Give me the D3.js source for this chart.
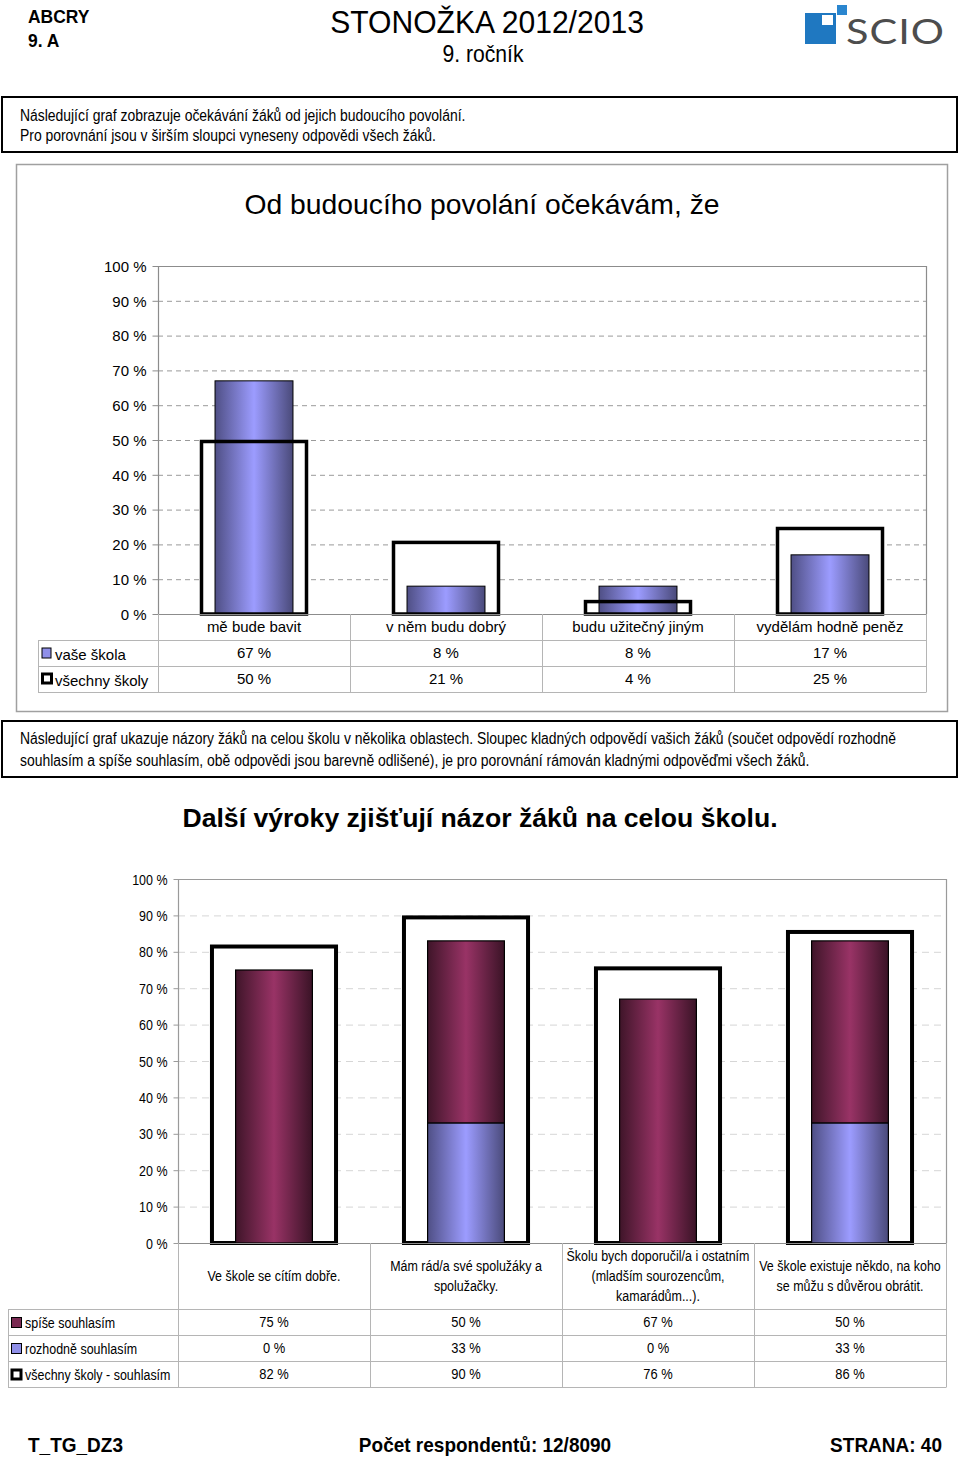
<!DOCTYPE html>
<html><head><meta charset="utf-8">
<script src="https://cdn.jsdelivr.net/npm/d3@7"></script>
<style>
html,body{margin:0;padding:0;background:#fff;}
svg{display:block;}
</style></head>
<body>
<script>
// ---------- data ----------
const categories1 = ["mě bude bavit", "v něm budu dobrý", "budu užitečný jiným", "vydělám hodně peněz"];
const vaseSkola = [67, 8, 8, 17];
const vsechnySkoly = [50, 21, 4, 25];
const series1Names = ["vaše škola", "všechny školy"];

const categories2 = [
  ["Ve škole se cítím dobře."],
  ["Mám rád/a své spolužáky a", "spolužačky."],
  ["Školu bych doporučil/a i ostatním", "(mladším sourozencům,", "kamarádům...)."],
  ["Ve škole existuje někdo, na koho", "se můžu s důvěrou obrátit."]
];
const spiseSouhlasim = [75, 50, 67, 50];
const rozhodneSouhlasim = [0, 33, 0, 33];
const vsechnySkolySouhlasim = [82, 90, 76, 86];
const series2Names = ["spíše souhlasím", "rozhodně souhlasím", "všechny školy - souhlasím"];

const yTicks = [0, 10, 20, 30, 40, 50, 60, 70, 80, 90, 100];

// ---------- setup ----------
const W = 960, H = 1459;
const SANS = "'Liberation Sans',Arial,Helvetica,sans-serif";
const svg = d3.select("body").append("svg").attr("width", W).attr("height", H);
const defs = svg.append("defs");

// condensed text helper (no narrow font installed: scale horizontally)
function ntext(parent, x, y, str, size, opts = {}) {
  const sx = opts.sx || 0.87;
  const t = parent.append("text")
    .attr("transform", `translate(${x},${y}) scale(${sx},1)`)
    .attr("font-family", SANS).attr("font-size", size)
    .attr("text-anchor", opts.anchor || "start")
    .text(str);
  if (opts.weight) t.attr("font-weight", opts.weight);
  if (opts.dy) t.attr("dy", opts.dy);
  return t;
}

function hGrad(id, edgeL, mid, edgeR) {
  const g = defs.append("linearGradient").attr("id", id).attr("x1", "0").attr("x2", "1").attr("y1", "0").attr("y2", "0");
  g.append("stop").attr("offset", "0").attr("stop-color", edgeL);
  g.append("stop").attr("offset", "0.5").attr("stop-color", mid);
  g.append("stop").attr("offset", "1").attr("stop-color", edgeR);
}
hGrad("gPurple", "#4f4f85", "#9c9cff", "#4a4a7a");
hGrad("gMaroon", "#3f1529", "#993366", "#3a1326");

// ---------- header ----------
ntext(svg, 28, 23, "ABCRY", 18, { weight: "bold", sx: 0.97 });
ntext(svg, 28, 47, "9. A", 18, { weight: "bold", sx: 0.97 });
ntext(svg, 487, 33, "STONOŽKA 2012/2013", 32, { anchor: "middle", sx: 0.94 });
ntext(svg, 483, 62, "9. ročník", 23, { anchor: "middle", sx: 0.92 });

// logo
const logo = svg.append("g");
logo.append("rect").attr("x", 805).attr("y", 13).attr("width", 31).attr("height", 31).attr("fill", "#1f78c1");
logo.append("rect").attr("x", 822).attr("y", 15).attr("width", 11).attr("height", 10).attr("fill", "#fff");
logo.append("rect").attr("x", 837).attr("y", 5).attr("width", 10).attr("height", 10).attr("fill", "#2a86cf");
logo.append("text").attr("transform", "translate(846,44) scale(1.22,1)")
  .attr("font-family", "Lato, 'Open Sans', sans-serif").attr("font-size", 34).attr("fill", "#4d4d4d")
  .attr("letter-spacing", 0.8).text("SCIO");

// ---------- text boxes ----------
function textBox(y, h, lines, ly) {
  svg.append("rect").attr("x", 2).attr("y", y).attr("width", 955).attr("height", h).attr("fill", "none").attr("stroke", "#000").attr("stroke-width", 2);
  lines.forEach((t, i) => ntext(svg, 20, ly[i], t, 16, { sx: 0.87 }));
}
textBox(97, 55, ["Následující graf zobrazuje očekávání žáků od jejich budoucího povolání.", "Pro porovnání jsou v širším sloupci vyneseny odpovědi všech žáků."], [121, 141]);
textBox(721, 56, ["Následující graf ukazuje názory žáků na celou školu v několika oblastech. Sloupec kladných odpovědí vašich žáků (součet odpovědí rozhodně",
  "souhlasím a spíše souhlasím, obě odpovědi jsou barevně odlišené), je pro porovnání rámován kladnými odpověďmi všech žáků."], [744, 766]);

// ---------- chart 1 ----------
svg.append("rect").attr("x", 16.5).attr("y", 164.5).attr("width", 931).attr("height", 547).attr("fill", "none").attr("stroke", "#a0a0a0").attr("stroke-width", 1.5);
svg.append("text").attr("x", 482).attr("y", 214).attr("text-anchor", "middle").attr("font-family", SANS).attr("font-size", 28.3).text("Od budoucího povolání očekávám, že");

(function chart1() {
  const left = 158, right = 926, top = 266, bottom = 614;
  const x = d3.scaleBand().domain(categories1).range([left, right]).paddingInner(0).paddingOuter(0);
  const y = d3.scaleLinear().domain([0, 100]).range([bottom, top]);
  const g = svg.append("g");
  g.selectAll("line.grid").data(yTicks.filter(t => t > 0 && t < 100)).join("line")
    .attr("x1", left).attr("x2", right).attr("y1", d => y(d) + 0.5).attr("y2", d => y(d) + 0.5)
    .attr("stroke", "#9a9a9a").attr("stroke-dasharray", "5,4").attr("stroke-width", 1);
  g.append("path").attr("d", `M${left + 0.5},${bottom} V${top + 0.5} H${right + 0.5} V${bottom}`).attr("fill", "none").attr("stroke", "#8c8c8c").attr("stroke-width", 1.2);
  const ax = g.append("g").attr("transform", `translate(${left + 0.5},0)`)
    .call(d3.axisLeft(y).tickValues(yTicks).tickSize(6).tickFormat(d => d + " %"));
  ax.select(".domain").remove();
  ax.selectAll(".tick line").attr("stroke", "#8c8c8c");
  ax.selectAll(".tick text").attr("font-family", SANS).attr("font-size", 15).attr("fill", "#000").attr("x", -12).attr("dy", "0.35em");
  const ow = x.bandwidth() * 0.5625, iw = x.bandwidth() * 0.406;
  const ox = i => x(categories1[i]) + (x.bandwidth() - ow) / 2;
  const ix = i => x(categories1[i]) + (x.bandwidth() - iw) / 2;
  g.selectAll("rect.ofill").data(vsechnySkoly).join("rect")
    .attr("x", (d, i) => ox(i)).attr("width", ow).attr("y", d => y(d)).attr("height", d => y(0) - y(d)).attr("fill", "#fff");
  g.selectAll("rect.bar").data(vaseSkola).join("rect")
    .attr("x", (d, i) => ix(i)).attr("width", iw).attr("y", d => y(d)).attr("height", d => y(0) - y(d))
    .attr("fill", "url(#gPurple)").attr("stroke", "#000").attr("stroke-width", 1);
  g.selectAll("rect.ostroke").data(vsechnySkoly).join("rect")
    .attr("x", (d, i) => ox(i) + 1.5).attr("width", ow - 3).attr("y", d => y(d) + 1.5).attr("height", d => y(0) - y(d) - 1.5)
    .attr("fill", "none").attr("stroke", "#000").attr("stroke-width", 3.5);
  g.append("line").attr("x1", left).attr("x2", right + 0.5).attr("y1", bottom + 0.5).attr("y2", bottom + 0.5).attr("stroke", "#8c8c8c").attr("stroke-width", 1.2);
  const rowY = [640, 666, 692];
  const tl = 38;
  const tg = svg.append("g").attr("stroke", "#b5b5b5").attr("stroke-width", 1);
  rowY.forEach(r => tg.append("line").attr("x1", tl).attr("x2", right).attr("y1", r + 0.5).attr("y2", r + 0.5));
  tg.append("line").attr("x1", tl + 0.5).attr("x2", tl + 0.5).attr("y1", 640).attr("y2", 692.5);
  [left, ...categories1.map(c => x(c) + x.bandwidth())].forEach(v => tg.append("line").attr("x1", v + 0.5).attr("x2", v + 0.5).attr("y1", bottom).attr("y2", 692.5));
  categories1.forEach((c, i) => {
    const cx = x(c) + x.bandwidth() / 2;
    svg.append("text").attr("x", cx).attr("y", 632).attr("text-anchor", "middle").attr("font-family", SANS).attr("font-size", 15).text(c);
    svg.append("text").attr("x", cx).attr("y", 658).attr("text-anchor", "middle").attr("font-family", SANS).attr("font-size", 15).text(vaseSkola[i] + " %");
    svg.append("text").attr("x", cx).attr("y", 684).attr("text-anchor", "middle").attr("font-family", SANS).attr("font-size", 15).text(vsechnySkoly[i] + " %");
  });
  svg.append("rect").attr("x", 42).attr("y", 648).attr("width", 9).attr("height", 10).attr("fill", "#8f8fe8").attr("stroke", "#000").attr("stroke-width", 1);
  svg.append("text").attr("x", 55).attr("y", 660).attr("font-family", SANS).attr("font-size", 15).text(series1Names[0]);
  svg.append("rect").attr("x", 42.5).attr("y", 674).attr("width", 9).attr("height", 9).attr("fill", "#fff").attr("stroke", "#000").attr("stroke-width", 3);
  svg.append("text").attr("x", 55).attr("y", 686).attr("font-family", SANS).attr("font-size", 15).text(series1Names[1]);
})();

// ---------- chart 2 ----------
svg.append("text").attr("x", 480).attr("y", 827).attr("text-anchor", "middle").attr("font-family", SANS).attr("font-weight", "bold").attr("font-size", 26.6).text("Další výroky zjišťují názor žáků na celou školu.");

(function chart2() {
  const left = 178, right = 946, top = 879, bottom = 1243;
  const keys = categories2.map((c, i) => "c" + i);
  const x = d3.scaleBand().domain(keys).range([left, right]).paddingInner(0).paddingOuter(0);
  const y = d3.scaleLinear().domain([0, 100]).range([bottom, top]);
  const g = svg.append("g");
  g.selectAll("line.grid").data(yTicks.filter(t => t > 0 && t < 100)).join("line")
    .attr("x1", left).attr("x2", right).attr("y1", d => y(d) + 0.5).attr("y2", d => y(d) + 0.5)
    .attr("stroke", "#d6d6d6").attr("stroke-dasharray", "7,5").attr("stroke-width", 1);
  g.append("path").attr("d", `M${left + 0.5},${bottom} V${top + 0.5} H${right + 0.5} V${bottom}`).attr("fill", "none").attr("stroke", "#9a9a9a").attr("stroke-width", 1.2);
  const ax = g.append("g").attr("transform", `translate(${left + 0.5},0)`)
    .call(d3.axisLeft(y).tickValues(yTicks).tickSize(5).tickFormat(d => d + " %"));
  ax.select(".domain").remove();
  ax.selectAll(".tick line").attr("stroke", "#9a9a9a");
  ax.selectAll(".tick text").attr("font-family", SANS).attr("font-size", 14.5).attr("fill", "#000")
    .attr("x", null).attr("dy", "0.35em")
    .attr("transform", "translate(-11,0) scale(0.86,1)");
  const ow = x.bandwidth() * 0.667, iw = x.bandwidth() * 0.40;
  const ox = i => x(keys[i]) + (x.bandwidth() - ow) / 2;
  const ix = i => x(keys[i]) + (x.bandwidth() - iw) / 2;
  g.selectAll("rect.outline").data(vsechnySkolySouhlasim).join("rect")
    .attr("x", (d, i) => ox(i) + 2).attr("width", ow - 4).attr("y", d => y(d) + 2).attr("height", d => y(0) - y(d) - 2)
    .attr("fill", "#fff").attr("stroke", "#000").attr("stroke-width", 4);
  const stack = d3.stack().keys(["rozhodne", "spise"])(rozhodneSouhlasim.map((r, i) => ({ rozhodne: r, spise: spiseSouhlasim[i] })));
  const fills = { rozhodne: "url(#gPurple)", spise: "url(#gMaroon)" };
  stack.forEach(s => {
    g.selectAll(null).data(s).join("rect")
      .attr("x", (d, i) => ix(i)).attr("width", iw)
      .attr("y", d => y(d[1])).attr("height", d => Math.max(0, y(d[0]) - y(d[1])))
      .attr("fill", fills[s.key]).attr("stroke", d => (d[1] - d[0]) > 0 ? "#000" : "none").attr("stroke-width", 1.2);
  });
  g.append("line").attr("x1", left).attr("x2", right + 0.5).attr("y1", bottom + 0.5).attr("y2", bottom + 0.5).attr("stroke", "#8c8c8c").attr("stroke-width", 1.2);
  const rowY = [1309, 1335, 1361, 1387];
  const tl = 8;
  const tg = svg.append("g").attr("stroke", "#b5b5b5").attr("stroke-width", 1);
  rowY.forEach(r => tg.append("line").attr("x1", tl).attr("x2", right).attr("y1", r + 0.5).attr("y2", r + 0.5));
  tg.append("line").attr("x1", tl + 0.5).attr("x2", tl + 0.5).attr("y1", 1309).attr("y2", 1387.5);
  [left, ...keys.map(k => x(k) + x.bandwidth())].forEach(v => tg.append("line").attr("x1", v + 0.5).attr("x2", v + 0.5).attr("y1", bottom).attr("y2", 1387.5));
  categories2.forEach((lines, i) => {
    const cx = x(keys[i]) + x.bandwidth() / 2;
    const lh = 20, midY = 1276;
    lines.forEach((t, j) => {
      ntext(svg, cx, midY + (j - (lines.length - 1) / 2) * lh, t, 14.5, { anchor: "middle", dy: "0.35em", sx: 0.86 });
    });
    [spiseSouhlasim, rozhodneSouhlasim, vsechnySkolySouhlasim].forEach((arr, r) => {
      ntext(svg, cx, rowY[r] + 13, arr[i] + " %", 15, { anchor: "middle", dy: "0.35em", sx: 0.86 });
    });
  });
  const keyFill = ["#7a2a52", "#8f8fe8", "#fff"];
  series2Names.forEach((n, r) => {
    const ry = rowY[r];
    if (r < 2) svg.append("rect").attr("x", 11.5).attr("y", ry + 8.5).attr("width", 10).attr("height", 10).attr("fill", keyFill[r]).attr("stroke", "#000").attr("stroke-width", 1);
    else svg.append("rect").attr("x", 12).attr("y", ry + 9).attr("width", 9).attr("height", 9).attr("fill", "#fff").attr("stroke", "#000").attr("stroke-width", 3);
    ntext(svg, 25, ry + 14, n, 14.5, { dy: "0.35em", sx: 0.86 });
  });
})();

// ---------- footer ----------
ntext(svg, 28, 1452, "T_TG_DZ3", 20, { weight: "bold", sx: 0.95 });
ntext(svg, 485, 1452, "Počet respondentů: 12/8090", 20, { weight: "bold", anchor: "middle", sx: 0.95 });
ntext(svg, 942, 1452, "STRANA: 40", 20, { weight: "bold", anchor: "end", sx: 0.95 });
</script>
</body></html>
